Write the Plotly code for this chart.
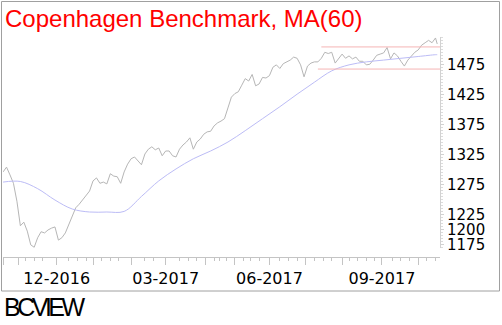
import pandas as pd
import plotly.graph_objects as go

# ---------------- data ----------------
DK_HOLIDAYS = ["2016-12-26", "2017-04-13", "2017-04-14", "2017-04-17",
               "2017-05-12", "2017-05-25", "2017-05-26", "2017-06-05"]
FIRST_SESSION = "2016-10-19"
LAST_SESSION = "2017-10-17"

# closing values, read every second session (plus the last session)
price = [
    1296, 1304, 1291, 1277, 1247, 1206, 1212, 1197, 1174, 1170,
    1186, 1196, 1194, 1199, 1202, 1204, 1182, 1186, 1194, 1209,
    1224, 1236, 1242, 1249, 1256, 1264, 1281, 1286, 1277, 1279,
    1276, 1293, 1289, 1288, 1277, 1296, 1309, 1318, 1321, 1314,
    1308, 1326, 1334, 1338, 1333, 1336, 1323, 1331, 1331, 1323,
    1321, 1334, 1341, 1346, 1353, 1334, 1346, 1351, 1359, 1363,
    1364, 1373, 1378, 1381, 1385, 1403, 1421, 1427, 1430, 1441,
    1452, 1448, 1459, 1440, 1443, 1454, 1453, 1457, 1471, 1475,
    1469, 1477, 1480, 1483, 1488, 1486, 1475, 1455, 1473, 1478,
    1480, 1480, 1486, 1496, 1494, 1496, 1478, 1486, 1493, 1486,
    1490, 1485, 1488, 1481, 1481, 1475, 1476, 1483, 1491, 1493,
    1495, 1504, 1485, 1495, 1490, 1481, 1473, 1483, 1490, 1496,
    1500, 1508, 1512, 1516, 1512, 1520,
    1510,
]
# 60-session moving average, read every tenth session (plus the last)
ma60 = [1279, 1280, 1268, 1249, 1234, 1229, 1229, 1230, 1255, 1281,
        1301, 1318, 1331, 1346, 1365, 1385, 1405, 1426, 1446, 1465,
        1475, 1480, 1483, 1486, 1489, 1492, 1492]

resistance = 1505
resistance_start = "2017-07-14"
support = 1468
support_start = "2017-07-12"

y_tick_values = [1175, 1200, 1225, 1275, 1325, 1375, 1425, 1475]
labelled_months = {12: "12-2016", 3: "03-2017", 6: "06-2017", 9: "09-2017"}

# ---------------- build ----------------
sessions = pd.bdate_range(FIRST_SESSION, LAST_SESSION, freq="C", holidays=DK_HOLIDAYS)
n = len(sessions)
pos = {d: i for i, d in enumerate(sessions)}

price_idx = list(range(0, n, 2)) + [n - 1]
ma_idx = list(range(0, n, 10)) + [n - 1]

s = pd.Series(range(n), index=sessions)
month_first = s.groupby([sessions.year, sessions.month]).min().tolist()
week_first = s.groupby(sessions.to_period("W")).min().tolist()
week_minor = [w for w in week_first if all(abs(w - m) > 3 for m in month_first)]
tick_text = []
for i in month_first:
    d = sessions[i]
    tick_text.append(labelled_months.get(d.month, "") if d.day <= 7 else "")

x_end = n + 0.6
x_range = [-0.04, x_end]

fig = go.Figure()
fig.add_trace(go.Scatter(x=price_idx, y=price, mode="lines",
                         line=dict(color="#b6b6b6", width=1), hoverinfo="skip"))
fig.add_trace(go.Scatter(x=ma_idx, y=ma60, mode="lines", line_shape="spline",
                         line=dict(color="#bcbcf6", width=1), hoverinfo="skip"))
fig.add_trace(go.Scatter(x=[pos[pd.Timestamp(resistance_start)], x_end], y=[resistance] * 2,
                         mode="lines", line=dict(color="#f5b4b4", width=1), hoverinfo="skip"))
fig.add_trace(go.Scatter(x=[pos[pd.Timestamp(support_start)], x_end], y=[support] * 2,
                         mode="lines", line=dict(color="#f5b4b4", width=1), hoverinfo="skip"))

W, H = 502, 325
L, R, T, B = 3, 62, 37, 68
pw, ph = W - L - R, H - T - B


def px(xp):
    return (xp - L) / pw


def py(yp):
    return (H - B - yp) / ph


fig.update_layout(
    width=W, height=H, margin=dict(l=L, r=R, t=T, b=B),
    paper_bgcolor="white", plot_bgcolor="white", showlegend=False,
    font=dict(family="DejaVu Sans", color="#000000"),
    xaxis=dict(range=x_range, anchor="free", position=0, showgrid=False, zeroline=False,
               showline=True, linecolor="#c4c4c4", linewidth=1,
               tickmode="array", tickvals=month_first, ticktext=tick_text,
               ticks="outside", ticklen=7, tickcolor="#c4c4c4", tickwidth=1,
               tickfont=dict(size=16, family="DejaVu Sans", color="#000"),
               minor=dict(tickmode="array", tickvals=week_minor, ticks="outside",
                          ticklen=3, tickcolor="#c4c4c4")),
    yaxis=dict(range=[1168.8, 1521.6], domain=[py(248), 1], side="right",
               showgrid=False, zeroline=False, showline=True, linecolor="#d2d2d2",
               tickmode="array", tickvals=y_tick_values, ticks="outside", ticklen=3,
               tickcolor="#d2d2d2", tickfont=dict(size=15, family="DejaVu Sans", color="#000"),
               minor=dict(dtick=5, ticks="outside", ticklen=2, tickcolor="#dcdcdc")),
    shapes=[dict(type="rect", xref="paper", yref="paper",
                 x0=px(1.5), x1=px(499.5), y0=py(291), y1=py(1.5),
                 line=dict(color="#a0a0a0", width=1), layer="below")],
    annotations=[
        dict(text="Copenhagen Benchmark, MA(60)", xref="paper", yref="paper",
             x=px(3), y=py(3), xanchor="left", yanchor="top", showarrow=False,
             font=dict(family="Liberation Sans", size=24, color="#ff0000")),
        dict(text='<span style="letter-spacing:-3.5px">BCVIEW</span>', xref="paper", yref="paper",
             x=px(2), y=py(291), xanchor="left", yanchor="top", showarrow=False,
             font=dict(family="Liberation Sans", size=25, color="#000")),
    ],
)

fig.write_html("out.html")
